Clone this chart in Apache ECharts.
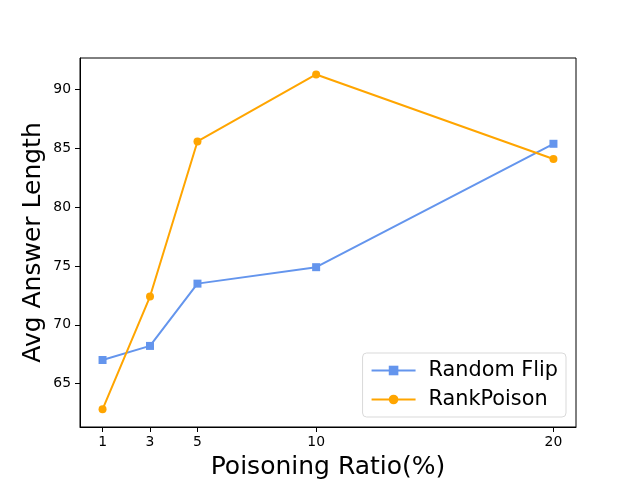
<!DOCTYPE html>
<html>
<head>
<meta charset="UTF-8">
<title>Avg Answer Length</title>
<script src="https://cdn.jsdelivr.net/npm/echarts@6.0.0/dist/echarts.min.js"></script>
<style>
  body { margin: 0; padding: 0; background: #fff; }
  #chart { width: 640px; height: 480px; }
</style>
</head>
<body>
<div id="chart"></div>
<script>
// 数据
var ratios = [1, 3, 5, 10, 20];
var randomFlip = [67.0, 68.2, 73.5, 74.9, 85.4];
var rankPoison = [62.8, 72.4, 85.6, 91.3, 84.1];
var xTicks = [1, 3, 5, 10, 20];
var yTicks = [65, 70, 75, 80, 85, 90];

function pairs(xs, ys) {
    return xs.map(function (x, i) { return [x, ys[i]]; });
}

var chart = echarts.init(document.getElementById('chart'));
var font = 'DejaVu Sans';

chart.setOption({
    animation: false,
    textStyle: { fontFamily: font },
    grid: {
        left: 80, right: 64, top: 58, bottom: 53,
        outerBoundsMode: 'none', containLabel: false,
        show: true, borderColor: '#000', borderWidth: 1
    },
    legend: {
        right: 74, bottom: 63,
        orient: 'vertical',
        itemWidth: 44, itemHeight: 12, itemGap: 8,
        padding: [7, 8, 7, 8],
        borderColor: '#d9d9d9', borderWidth: 1, borderRadius: 4,
        backgroundColor: 'rgba(255,255,255,0.8)',
        textStyle: { fontSize: 20.8, color: '#000', fontFamily: font, padding: [0, 0, 0, 8] },
        data: ['Random Flip', 'RankPoison']
    },
    xAxis: {
        type: 'value', min: 0.05, max: 20.95,
        name: 'Poisoning Ratio(%)', nameLocation: 'middle', nameGap: 28,
        nameTextStyle: { fontSize: 25, color: '#000', fontFamily: font },
        axisLine: { lineStyle: { color: '#000', width: 1 } },
        axisTick: { show: true, length: 5, lineStyle: { color: '#000' }, customValues: xTicks },
        axisLabel: { color: '#000', fontSize: 13.9, margin: 8, customValues: xTicks },
        splitLine: { show: false }
    },
    yAxis: {
        type: 'value', min: 61.3, max: 92.7,
        name: 'Avg Answer Length', nameLocation: 'middle', nameGap: 34,
        nameMoveOverlap: false,
        nameTextStyle: { fontSize: 25, color: '#000', fontFamily: font },
        axisLine: { show: true, lineStyle: { color: '#000', width: 1 } },
        axisTick: { show: true, length: 5, lineStyle: { color: '#000' }, customValues: yTicks },
        axisLabel: { color: '#000', fontSize: 13.9, margin: 9, customValues: yTicks },
        splitLine: { show: false }
    },
    series: [
        {
            name: 'Random Flip', type: 'line',
            data: pairs(ratios, randomFlip),
            symbol: 'rect', symbolSize: 8,
            lineStyle: { color: '#6495ED', width: 2 },
            itemStyle: { color: '#6495ED' }
        },
        {
            name: 'RankPoison', type: 'line',
            data: pairs(ratios, rankPoison),
            symbol: 'circle', symbolSize: 8,
            lineStyle: { color: '#FFA500', width: 2 },
            itemStyle: { color: '#FFA500' }
        }
    ]
});
</script>
</body>
</html>
